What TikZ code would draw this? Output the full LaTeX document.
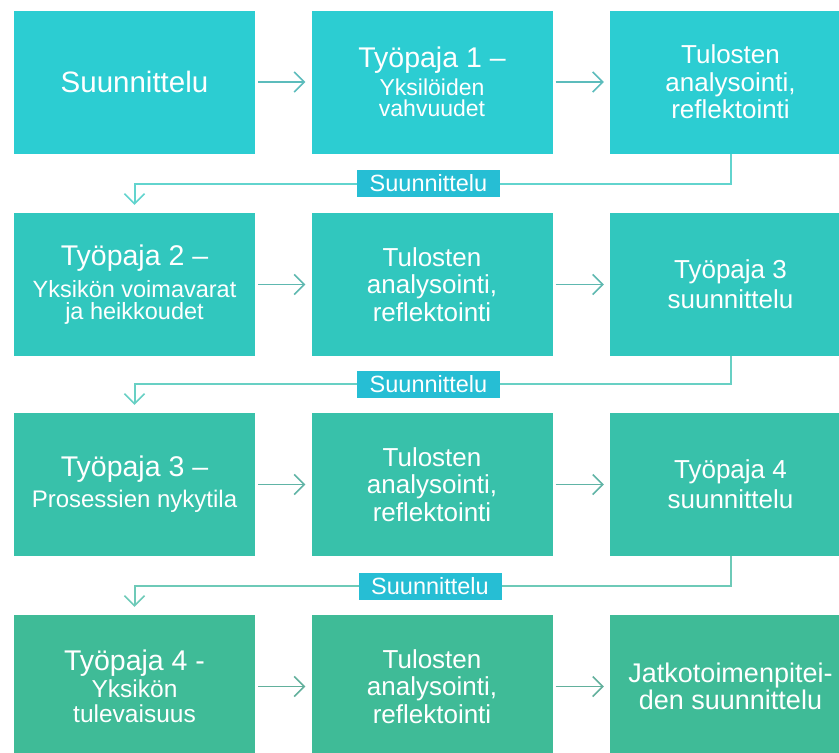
\documentclass[tikz,border=0pt]{standalone}
\usepackage{fontspec}
\setmainfont{Liberation Sans}
\usetikzlibrary{arrows.meta,backgrounds}
\definecolor{rowA}{RGB}{44,205,210}
\definecolor{rowB}{RGB}{49,199,190}
\definecolor{rowC}{RGB}{56,193,170}
\definecolor{rowD}{RGB}{63,187,151}
\definecolor{labc}{RGB}{38,190,212}
\definecolor{lineA}{RGB}{98,212,206}
\definecolor{lineB}{RGB}{104,208,196}
\definecolor{lineC}{RGB}{110,202,184}
\definecolor{arrA}{RGB}{92,188,188}
\definecolor{arrB}{RGB}{94,184,176}
\definecolor{arrC}{RGB}{96,180,166}
\definecolor{arrD}{RGB}{98,176,156}
\newcommand\ttl[1]{{\fontsize{28.5}{28}\selectfont #1}}
\begin{document}
\begin{tikzpicture}[x=1pt,y=-1pt,
  box/.style={rectangle,minimum width=241pt,minimum height=143pt,inner sep=0pt,text=white,align=center,
    font={\fontsize{23}{21}\selectfont\lineskiplimit=-100pt}},
  tul/.style={box,font={\fontsize{26}{27.5}\selectfont\lineskiplimit=-100pt}},
  mid/.style={box,font={\fontsize{26}{30}\selectfont\lineskiplimit=-100pt}},
  lab/.style={rectangle,fill=labc,text=white,minimum width=143pt,minimum height=27pt,inner sep=0pt,
    font={\fontsize{23.5}{24}\selectfont}},
  harrow/.style={line width=1.5pt,-{Straight Barb[length=10pt,width=20pt]},shorten <=3pt,shorten >=6pt},
  conn/.style={line width=2pt,-{Straight Barb[length=10pt,width=20pt,line width=1.5pt]},shorten >=8pt}
]
\clip (0,0) rectangle (839,753);
% row 1
\node[box,fill=rowA,font={\fontsize{29.5}{30}\selectfont}] (t11) at (134.5,82) {Suunnittelu};
\node[box,fill=rowA] (t12) at (432,82) {\ttl{Työpaja 1 –}\\[7pt]Yksilöiden\\vahvuudet};
\node[tul,fill=rowA] (t13) at (730.5,82) {Tulosten\\analysointi,\\reflektointi};
% row 2
\node[box,fill=rowB,font={\fontsize{23.5}{22}\selectfont\lineskiplimit=-100pt}] (t21) at (134.5,284.5) {\ttl{Työpaja 2 –}\\[10pt]Yksikön voimavarat\\ja heikkoudet};
\node[tul,fill=rowB] (t22) at (432,284.5) {Tulosten\\analysointi,\\reflektointi};
\node[mid,fill=rowB] (t23) at (730.5,284.5) {Työpaja 3\\suunnittelu};
% row 3
\node[box,fill=rowC,font={\fontsize{24}{21}\selectfont\lineskiplimit=-100pt}] (t31) at (134.5,484.5) {\ttl{Työpaja 3 –}\\[10pt]Prosessien nykytila};
\node[tul,fill=rowC] (t32) at (432,484.5) {Tulosten\\analysointi,\\reflektointi};
\node[mid,fill=rowC] (t33) at (730.5,484.5) {Työpaja 4\\suunnittelu};
% row 4
\node[box,fill=rowD,font={\fontsize{24.5}{25}\selectfont\lineskiplimit=-100pt}] (t41) at (134.5,686.5) {\ttl{Työpaja 4 -}\\[2pt]Yksikön\\tulevaisuus};
\node[tul,fill=rowD] (t42) at (432,686.5) {Tulosten\\analysointi,\\reflektointi};
\node[box,fill=rowD,font={\fontsize{27}{27}\selectfont\lineskiplimit=-100pt}] (t43) at (730.5,686.5) {Jatkotoimenpitei-\\den suunnittelu};
% labels
\node[lab] (L1) at (428.5,183.5) {Suunnittelu};
\node[lab] (L2) at (428.5,384) {Suunnittelu};
\node[lab] (L3) at (430,586) {Suunnittelu};
% horizontal arrows
\draw[harrow,arrA] (t11) -- (t12);
\draw[harrow,arrA] (t12) -- (t13);
\draw[harrow,arrB] (t21) -- (t22);
\draw[harrow,arrB] (t22) -- (t23);
\draw[harrow,arrC] (t31) -- (t32);
\draw[harrow,arrC] (t32) -- (t33);
\draw[harrow,arrD] (t41) -- (t42);
\draw[harrow,arrD] (t42) -- (t43);
% connectors
\begin{scope}[on background layer]
\draw[conn,lineA] (t13.south) |- (L1.center) -| (t21.north);
\draw[conn,lineB] (t23.south) |- (L2.center) -| (t31.north);
\draw[conn,lineC] (t33.south) |- (L3.center) -| (t41.north);
\end{scope}
\end{tikzpicture}
\end{document}
